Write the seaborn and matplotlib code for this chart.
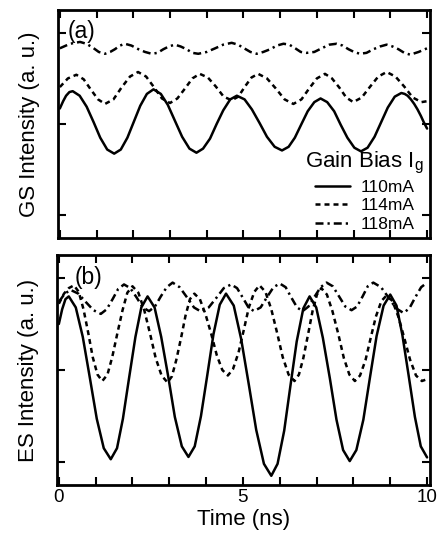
import matplotlib
matplotlib.use("Agg")
import matplotlib.pyplot as plt
from matplotlib.ticker import MultipleLocator, FixedLocator, NullFormatter
import seaborn as sns
import pandas as pd

# ---------------- data ----------------
series_names = ["110mA", "114mA", "118mA"]

# (a) GS intensity
gs_110_t = [0, 0.09, 0.17, 0.26, 0.35, 0.54, 0.73, 0.92, 1.10, 1.29, 1.48, 1.66, 1.84, 2.02, 2.19,
            2.37, 2.55, 2.75, 2.94, 3.14, 3.33, 3.53, 3.72, 3.90, 4.09, 4.27, 4.45, 4.64, 4.82, 5.03,
            5.23, 5.44, 5.64, 5.85, 6.05, 6.23, 6.40, 6.58, 6.75, 6.93, 7.1, 7.28, 7.47, 7.65, 7.83,
            8.02, 8.2, 8.38, 8.57, 8.75, 8.93, 9.12, 9.3, 9.39, 9.47, 9.56, 9.65, 9.74, 9.83, 9.91, 10.0]
gs_110_v = [1.17, 1.25, 1.31, 1.35, 1.36, 1.31, 1.19, 1.02, 0.85, 0.72, 0.675, 0.72, 0.85, 1.03, 1.20,
            1.33, 1.38, 1.33, 1.21, 1.03, 0.86, 0.73, 0.685, 0.73, 0.84, 1.0, 1.15, 1.27, 1.31, 1.27,
            1.16, 1.01, 0.86, 0.75, 0.71, 0.75, 0.85, 1.0, 1.14, 1.24, 1.28, 1.24, 1.14, 0.99, 0.85,
            0.74, 0.70, 0.74, 0.86, 1.02, 1.18, 1.30, 1.34, 1.33, 1.31, 1.27, 1.22, 1.16, 1.09, 1.02, 0.95]

gs_114_t = [0, 0.22, 0.45, 0.65, 0.84, 1.04, 1.23, 1.46, 1.68, 1.91, 2.13, 2.35, 2.57, 2.78, 3.0,
            3.2, 3.41, 3.61, 3.81, 4.03, 4.25, 4.46, 4.68, 4.86, 5.04, 5.22, 5.4, 5.64, 5.88, 6.12,
            6.36, 6.58, 6.79, 7.0, 7.22, 7.41, 7.61, 7.8, 7.99, 8.22, 8.45, 8.67, 8.9, 9.14, 9.38,
            9.61, 9.85, 10.0]
gs_114_v = [1.405, 1.50, 1.54, 1.49, 1.38, 1.27, 1.22, 1.27, 1.40, 1.52, 1.57, 1.52, 1.40, 1.28, 1.23,
            1.28, 1.39, 1.50, 1.55, 1.51, 1.41, 1.30, 1.26, 1.30, 1.41, 1.51, 1.55, 1.50, 1.39, 1.27,
            1.22, 1.27, 1.39, 1.50, 1.55, 1.50, 1.40, 1.29, 1.24, 1.29, 1.41, 1.52, 1.57, 1.52, 1.41,
            1.29, 1.24, 1.25]

gs_118_t = [0, 0.28, 0.55, 0.72, 0.89, 1.06, 1.23, 1.37, 1.50, 1.64, 1.77, 1.95, 2.14, 2.32, 2.5,
            2.66, 2.82, 2.97, 3.13, 3.29, 3.45, 3.61, 3.77, 4.0, 4.23, 4.45, 4.68, 4.85, 5.02, 5.19,
            5.36, 5.54, 5.73, 5.91, 6.09, 6.25, 6.41, 6.56, 6.72, 6.93, 7.13, 7.34, 7.54, 7.70, 7.86,
            8.01, 8.17, 8.35, 8.54, 8.72, 8.9, 9.06, 9.22, 9.38, 9.54, 9.77, 10.0]
gs_118_v = [1.83, 1.88, 1.90, 1.88, 1.84, 1.79, 1.77, 1.79, 1.82, 1.86, 1.88, 1.86, 1.82, 1.79, 1.77,
            1.78, 1.82, 1.85, 1.87, 1.85, 1.82, 1.78, 1.77, 1.79, 1.83, 1.87, 1.89, 1.87, 1.83, 1.79,
            1.77, 1.79, 1.82, 1.86, 1.88, 1.87, 1.83, 1.79, 1.78, 1.79, 1.83, 1.87, 1.88, 1.86, 1.82,
            1.79, 1.77, 1.78, 1.82, 1.85, 1.87, 1.85, 1.82, 1.78, 1.76, 1.79, 1.83]

# (b) ES intensity
es_110_t = [0, 0.09, 0.18, 0.27, 0.46, 0.65, 0.84, 1.03, 1.22, 1.41, 1.58, 1.74, 1.91, 2.08, 2.24,
            2.41, 2.60, 2.78, 2.97, 3.15, 3.34, 3.52, 3.69, 3.86, 4.03, 4.20, 4.37, 4.54, 4.75, 4.95,
            5.16, 5.36, 5.57, 5.77, 5.94, 6.12, 6.29, 6.46, 6.64, 6.81, 6.99, 7.17, 7.36, 7.54, 7.72,
            7.9, 8.08, 8.27, 8.45, 8.63, 8.82, 9.0, 9.17, 9.33, 9.5, 9.67, 9.83, 10.0]
es_110_v = [1.5, 1.66, 1.77, 1.80, 1.68, 1.36, 0.92, 0.47, 0.15, 0.03, 0.15, 0.47, 0.92, 1.36, 1.68,
            1.80, 1.68, 1.36, 0.93, 0.49, 0.17, 0.055, 0.17, 0.50, 0.94, 1.39, 1.71, 1.83, 1.70, 1.34,
            0.84, 0.35, -0.02, -0.15, -0.02, 0.34, 0.83, 1.31, 1.67, 1.80, 1.68, 1.35, 0.91, 0.46, 0.13,
            0.01, 0.13, 0.46, 0.92, 1.37, 1.70, 1.82, 1.70, 1.38, 0.94, 0.49, 0.17, 0.05]

es_114_t = [0, 0.14, 0.27, 0.41, 0.54, 0.67, 0.80, 0.92, 1.05, 1.18, 1.32, 1.45, 1.59, 1.73, 1.86,
            2.0, 2.16, 2.32, 2.48, 2.63, 2.79, 2.95, 3.07, 3.19, 3.32, 3.44, 3.56, 3.68, 3.83, 3.98,
            4.14, 4.29, 4.44, 4.59, 4.73, 4.88, 5.02, 5.16, 5.31, 5.45, 5.61, 5.77, 5.93, 6.08, 6.24,
            6.4, 6.52, 6.64, 6.77, 6.89, 7.01, 7.13, 7.28, 7.43, 7.59, 7.74, 7.89, 8.04, 8.18, 8.33,
            8.47, 8.61, 8.76, 8.9, 9.06, 9.22, 9.38, 9.54, 9.70, 9.86, 10.0]
es_114_v = [1.72, 1.83, 1.89, 1.92, 1.85, 1.66, 1.40, 1.14, 0.95, 0.88, 0.95, 1.14, 1.40, 1.65, 1.84,
            1.91, 1.84, 1.65, 1.39, 1.13, 0.94, 0.865, 0.93, 1.11, 1.35, 1.59, 1.77, 1.83, 1.77, 1.61,
            1.39, 1.16, 1.0, 0.94, 1.01, 1.19, 1.43, 1.68, 1.85, 1.92, 1.85, 1.66, 1.40, 1.14, 0.95,
            0.88, 0.95, 1.13, 1.39, 1.64, 1.82, 1.89, 1.82, 1.64, 1.39, 1.13, 0.95, 0.88, 0.94, 1.11,
            1.35, 1.58, 1.75, 1.81, 1.75, 1.58, 1.35, 1.11, 0.94, 0.88, 0.90]

es_118_t = [0, 0.16, 0.32, 0.53, 0.73, 0.94, 1.14, 1.30, 1.46, 1.61, 1.77, 1.94, 2.11, 2.28, 2.45,
            2.61, 2.77, 2.93, 3.09, 3.28, 3.48, 3.67, 3.86, 4.07, 4.27, 4.48, 4.68, 4.84, 4.99, 5.15,
            5.3, 5.48, 5.65, 5.83, 6.0, 6.16, 6.31, 6.47, 6.62, 6.78, 6.95, 7.11, 7.27, 7.44, 7.61,
            7.78, 7.95, 8.10, 8.25, 8.39, 8.54, 8.75, 8.95, 9.16, 9.36, 9.52, 9.68, 9.84, 10.0]
es_118_v = [1.74, 1.83, 1.87, 1.83, 1.74, 1.65, 1.61, 1.66, 1.77, 1.88, 1.93, 1.89, 1.79, 1.68, 1.64,
            1.69, 1.80, 1.90, 1.95, 1.90, 1.79, 1.68, 1.635, 1.68, 1.78, 1.89, 1.93, 1.89, 1.79, 1.68,
            1.64, 1.68, 1.79, 1.90, 1.94, 1.90, 1.79, 1.68, 1.64, 1.69, 1.80, 1.90, 1.95, 1.91, 1.80,
            1.69, 1.65, 1.69, 1.80, 1.91, 1.95, 1.90, 1.79, 1.67, 1.62, 1.67, 1.79, 1.90, 1.95]

x_tick_labels = ["0", "5", "10"]
legend_title = r"Gain Bias I$_{\mathregular{g}}$"
panel_labels = ["(a)", "(b)"]
y_labels = ["GS Intensity (a. u.)", "ES Intensity (a. u.)"]
x_label = "Time (ns)"

# ---------------- assemble tidy table ----------------
frames = []
for panel, group in (("GS", [(gs_110_t, gs_110_v), (gs_114_t, gs_114_v), (gs_118_t, gs_118_v)]),
                     ("ES", [(es_110_t, es_110_v), (es_114_t, es_114_v), (es_118_t, es_118_v)])):
    for name, (t, v) in zip(series_names, group):
        frames.append(pd.DataFrame({"panel": panel, "bias": name, "time": t, "value": v}))
df = pd.concat(frames, ignore_index=True)

# ---------------- style ----------------
sns.set_theme(style="ticks")
plt.rcParams['font.family'] = ['Liberation Sans', 'DejaVu Sans']
plt.rcParams['mathtext.fontset'] = 'custom'
plt.rcParams['mathtext.rm'] = 'Liberation Sans'
plt.rcParams['mathtext.it'] = 'Liberation Sans'
plt.rcParams['text.color'] = 'black'
plt.rcParams['axes.labelcolor'] = 'black'
plt.rcParams['xtick.color'] = 'black'
plt.rcParams['ytick.color'] = 'black'

line_styles = {"110mA": "-", "114mA": (0, (2.0, 1.6)), "118mA": (0, (3.2, 1.6, 0.9, 1.6))}
LW = 1.8

W, H = 437, 534
fig = plt.figure(figsize=(W / 100, H / 100), dpi=100, facecolor="white")
ax1 = fig.add_axes([58 / W, 1 - 238 / H, 372 / W, 228 / H])
ax2 = fig.add_axes([57 / W, 1 - 485 / H, 373 / W, 230 / H])

for ax, panel in ((ax1, "GS"), (ax2, "ES")):
    for name in series_names:
        sub = df[(df.panel == panel) & (df.bias == name)]
        sns.lineplot(data=sub, x="time", y="value", ax=ax, color="black", lw=LW,
                     linestyle=line_styles[name], errorbar=None, label=name,
                     legend=False)

for ax, ylab, plab, px, py in ((ax1, y_labels[0], panel_labels[0], 0.027, 0.955),
                               (ax2, y_labels[1], panel_labels[1], 0.047, 0.95)):
    ax.set_xlim(-0.05, 10.08)
    ax.set_ylim(-0.25, 2.25)
    ax.xaxis.set_major_locator(FixedLocator([0, 5, 10]))
    ax.xaxis.set_minor_locator(MultipleLocator(1))
    ax.yaxis.set_major_locator(FixedLocator([0, 1, 2]))
    ax.yaxis.set_major_formatter(NullFormatter())
    ax.tick_params(which="both", direction="in", top=True, right=True, width=1.5,
                   length=6, pad=3, labelsize=13.5)
    for s in ax.spines.values():
        s.set_linewidth(2)
        s.set_color("black")
    ax.set_ylabel(ylab, fontsize=16, labelpad=10)
    ax.text(px, py, plab, transform=ax.transAxes, va="top", ha="left", fontsize=16.5)
    ax.set_facecolor("white")

ax1.xaxis.set_major_formatter(NullFormatter())
ax1.set_xlabel("")
ax2.set_xticklabels(x_tick_labels)
ax2.set_xlabel(x_label, fontsize=16, labelpad=2)

handles, labels = ax1.get_legend_handles_labels()
leg = ax1.legend(handles, labels, title=legend_title, loc="lower right",
                 frameon=False, fontsize=12.5, title_fontsize=16, handlelength=2.0,
                 handletextpad=0.6, labelspacing=0.2, borderaxespad=0.15, borderpad=0.2)

fig.savefig("out.png", dpi=100, facecolor="white")
